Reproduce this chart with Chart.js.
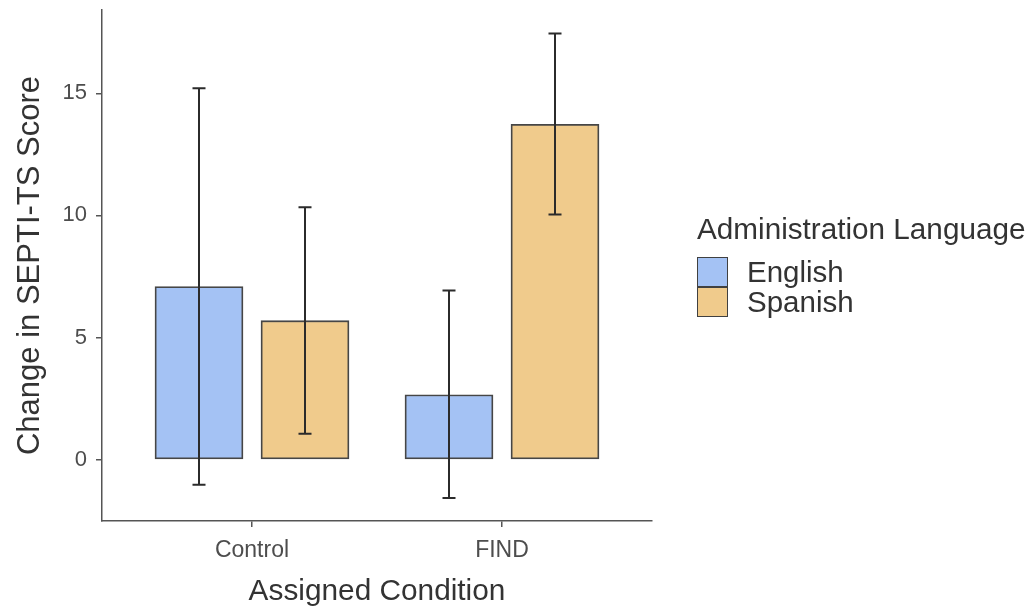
<!DOCTYPE html>
<html>
<head>
<meta charset="utf-8">
<script src="https://cdn.jsdelivr.net/npm/chart.js@4.4.0/dist/chart.umd.min.js"></script>
<style>
    html, body { margin: 0; padding: 0; background: #fff; }
    #wrap { position: relative; width: 1032px; height: 612px; }
    #legend { position: absolute; left: 697px; top: 214px; font-family: 'Liberation Sans', Arial, sans-serif; color: #333; }
    #legend .title { font-size: 29.7px; line-height: 29px; white-space: nowrap; margin-bottom: 14px; }
    #legend .item { display: flex; align-items: center; height: 30px; font-size: 29.5px; }
    #legend .key { box-sizing: border-box; width: 31px; height: 30px; border: 1.5px solid #404040; margin-right: 19px; }
</style>
</head>
<body>
<div id="wrap">
    <canvas id="myChart" width="1032" height="612"></canvas>
    <div id="legend"></div>
</div>
<script>
const categories = ['Control', 'FIND'];
const languages = ['English', 'Spanish'];
const englishMeans = [7.09, 2.66];
const spanishMeans = [5.69, 13.73];
const englishLower = [-1.03, -1.57];
const englishUpper = [15.21, 6.93];
const spanishLower = [1.06, 10.04];
const spanishUpper = [10.33, 17.45];
const yTicks = [0, 5, 10, 15];

const langColors = ['#A4C2F4', '#F0CB8C'];
const dodge = [-0.212, 0.212];

Chart.defaults.font.family = "'Liberation Sans', Arial, sans-serif";

function makeDataset(idx, means, lower, upper){
    return {
        label: languages[idx],
        data: categories.map(function(c, i){ return {x: i + 1 + dodge[idx], y: means[i]}; }),
        lower: lower,
        upper: upper,
        backgroundColor: langColors[idx],
        borderColor: 'rgba(50, 50, 50, 0.9)',
        borderWidth: 1.8,
        borderSkipped: false,
        barThickness: 88,
        grouped: false
    };
}

// draws the error bars on top of the bars
const errorBars = {
    id: 'errorBars',
    afterDatasetsDraw: function(chart){
        const ctx = chart.ctx;
        const y = chart.scales.y;
        ctx.save();
        ctx.strokeStyle = '#2b2b2b';
        ctx.lineWidth = 2;
        chart.data.datasets.forEach(function(ds, d){
            const meta = chart.getDatasetMeta(d);
            meta.data.forEach(function(bar, i){
                const x = bar.x;
                const lo = y.getPixelForValue(ds.lower[i]);
                const hi = y.getPixelForValue(ds.upper[i]);
                ctx.beginPath();
                ctx.moveTo(x, lo); ctx.lineTo(x, hi);
                ctx.moveTo(x - 6.5, lo); ctx.lineTo(x + 6.5, lo);
                ctx.moveTo(x - 6.5, hi); ctx.lineTo(x + 6.5, hi);
                ctx.stroke();
            });
        });
        ctx.restore();
    }
};

// html legend, built from chart's own legend items
const htmlLegend = {
    id: 'htmlLegend',
    afterUpdate: function(chart){
        const box = document.getElementById('legend');
        box.innerHTML = '';
        const title = document.createElement('div');
        title.className = 'title';
        title.textContent = 'Administration Language';
        box.appendChild(title);
        const items = chart.options.plugins.legend.labels.generateLabels(chart);
        items.forEach(function(item){
            const row = document.createElement('div');
            row.className = 'item';
            const key = document.createElement('span');
            key.className = 'key';
            key.style.background = item.fillStyle;
            const txt = document.createElement('span');
            txt.textContent = item.text;
            row.appendChild(key);
            row.appendChild(txt);
            box.appendChild(row);
        });
    }
};

const ctx = document.getElementById('myChart');
new Chart(ctx, {
    type: 'bar',
    data: {
        datasets: [
            makeDataset(0, englishMeans, englishLower, englishUpper),
            makeDataset(1, spanishMeans, spanishLower, spanishUpper)
        ]
    },
    options: {
        responsive: false,
        animation: false,
        layout: { padding: { left: 0, top: 10, right: 380, bottom: 0 } },
        plugins: {
            legend: { display: false },
            tooltip: { enabled: false }
        },
        scales: {
            x: {
                type: 'linear',
                min: 0.4,
                max: 2.6,
                offset: false,
                afterBuildTicks: function(s){
                    s.ticks = categories.map(function(c, i){ return {value: i + 1}; });
                },
                afterFit: function(s){
                    s.height = 91;
                    s.paddingLeft = 0;
                    s.paddingRight = 0;
                },
                ticks: {
                    callback: function(v){ return categories[Math.round(v) - 1]; },
                    font: { size: 23 },
                    color: '#4d4d4d',
                    padding: 10,
                    maxRotation: 0,
                    autoSkip: false
                },
                grid: { display: true, offset: false, drawOnChartArea: false, drawTicks: true, tickLength: 6, color: '#555', lineWidth: 1.5 },
                border: { display: true, color: '#555', width: 1.5 },
                title: {
                    display: true,
                    text: 'Assigned Condition',
                    font: { size: 29.8 },
                    color: '#333',
                    padding: { top: 0, bottom: 2 }
                }
            },
            y: {
                min: -2.51,
                max: 18.41,
                afterBuildTicks: function(s){
                    s.ticks = yTicks.map(function(v){ return {value: v}; });
                },
                afterFit: function(s){
                    s.width = 102;
                    s.paddingTop = 0;
                    s.paddingBottom = 0;
                },
                ticks: {
                    font: { size: 22 },
                    color: '#4d4d4d',
                    padding: 9
                },
                grid: { display: true, drawOnChartArea: false, drawTicks: true, tickLength: 6, color: '#555', lineWidth: 1.5 },
                border: { display: true, color: '#555', width: 1.5 },
                title: {
                    display: true,
                    text: 'Change in SEPTI-TS Score',
                    font: { size: 31 },
                    color: '#333',
                    padding: { top: 12, bottom: 0 }
                }
            }
        }
    },
    plugins: [errorBars, htmlLegend]
});
</script>
</body>
</html>
